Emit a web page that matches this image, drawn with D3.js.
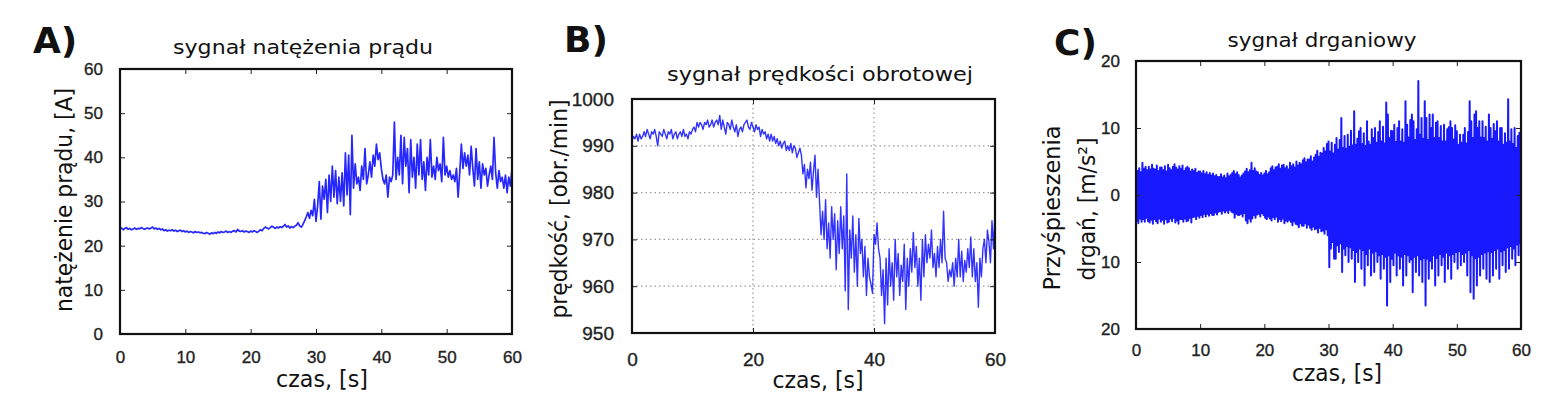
<!DOCTYPE html>
<html><head><meta charset="utf-8">
<script src="https://cdn.jsdelivr.net/npm/d3@7/dist/d3.min.js"></script>
<style>
html,body{margin:0;padding:0;background:#fff;}
svg{display:block;}
</style></head>
<body>
<svg id="chart" width="1554" height="404"></svg>
<script>
// ---------- DATA ----------
const timeStep = 0.25;   // s, all panels

// A) current [A], every 0.25 s from 0 to 60 s
const currentA = [
 23.8,24.0,23.6,23.9, 24.1,23.7,23.9,23.6, 23.8,24.0,23.7,23.9, 23.8,24.1,23.9,23.7,
 23.9,24.0,23.8,24.0, 24.2,23.8,24.0,23.7, 23.9,23.6,23.8,23.4, 23.6,23.3,23.5,23.4,
 23.6,23.3,23.5,23.2, 23.4,23.5,23.2,23.4, 23.1,23.3,23.0,23.2, 23.1,22.9,23.2,23.0,
 23.1,22.9,23.0,22.8, 22.7,23.0,22.8,22.6, 22.9,22.7,23.0,22.8, 23.1,22.9,23.2,23.0,
 23.1,23.3,23.0,23.2, 23.0,23.3,23.4,23.1, 23.7,23.3,23.2,23.4, 23.1,23.3,23.2,23.0,
 23.3,23.1,23.4,23.2, 23.0,23.3,23.6,23.4, 23.9,24.2,24.0,23.8, 24.1,24.4,24.2,23.9,
 24.2,24.0,24.3,24.1, 24.4,24.8,24.2,24.5, 24.0,24.3,24.1,24.4, 24.6,25.2,24.5,24.2,
 24.8,25.6,26.5,27.5, 26.2,28.0,26.8,30.5, 25.5,29.0,34.5,26.0, 33.5,30.5,35.0,27.5,
 36.0,30.0,38.0,31.0, 37.0,29.5,35.5,30.0, 36.5,29.0,41.0,31.5, 40.5,27.0,45.0,33.0,
 38.5,34.0,35.5,32.5, 38.0,35.0,42.0,34.0, 36.0,39.0,35.5,40.5, 38.0,43.0,39.5,41.0,
 37.5,35.0,34.0,36.0, 31.0,35.5,34.5,36.0, 48.0,35.0,40.0,36.0, 45.0,34.0,44.5,38.0,
 42.0,32.0,44.0,35.5, 40.0,33.0,43.0,36.0, 44.0,35.0,39.0,32.5, 40.0,36.0,44.0,35.5,
 38.0,35.0,40.0,37.0, 38.5,34.5,44.5,36.0, 38.0,35.5,37.0,35.0, 36.0,34.5,37.5,31.0,
 36.5,43.0,37.5,41.0, 38.0,40.5,36.0,42.5, 37.5,33.5,42.0,35.0, 39.0,33.0,38.5,36.0,
 37.5,33.5,36.0,38.0, 35.0,44.5,36.5,33.0, 37.0,34.5,35.5,33.0, 36.0,32.0,35.5,33.5,
 37.5
];

// B) rotational speed [obr./min], every 0.25 s
const speedB = [
 991.0,992.0,991.5,992.5, 991.0,992.5,991.5,992.0, 993.0,992.0,993.5,992.5, 991.5,993.0,992.5,993.5,
 992.0,990.0,993.0,992.5, 992.0,993.5,992.5,991.5, 993.0,992.5,993.5,991.5, 992.5,993.0,991.5,992.5,
 993.0,992.0,993.5,992.0, 992.5,991.5,993.0,992.5, 993.5,994.0,993.0,995.0, 994.0,995.0,994.5,993.5,
 995.0,994.5,995.5,994.0, 994.5,995.5,994.0,995.0, 995.5,994.5,996.5,993.5, 995.5,994.0,992.5,995.0,
 994.5,993.5,995.5,994.0, 993.0,994.5,992.0,993.5, 994.0,993.0,994.5,995.0, 995.5,994.0,993.5,995.0,
 994.0,993.0,994.5,993.5, 994.0,992.0,993.5,992.5, 993.0,991.5,992.5,991.0, 992.5,991.0,992.0,990.5,
 991.5,990.0,991.0,989.5, 990.5,991.0,989.0,990.0, 989.0,990.5,988.5,990.0, 989.5,987.5,988.5,989.5,
 988.0,984.0,986.0,981.0, 985.0,983.0,986.5,980.5, 984.5,988.0,979.0,985.0, 978.0,971.0,976.0,970.0,
 978.5,968.0,973.5,966.0, 977.0,970.0,975.5,963.5, 974.0,967.0,977.0,968.0, 975.0,959.0,984.0,955.0,
 972.0,966.0,975.0,963.0, 971.0,960.0,974.5,967.0, 970.0,962.0,968.5,958.0, 966.0,962.0,960.5,958.5,
 971.0,969.0,973.5,968.0, 966.0,958.0,963.5,952.0, 966.0,956.0,968.0,960.0, 965.0,957.0,970.0,962.0,
 967.0,958.0,964.5,961.0, 969.0,955.0,966.0,960.0, 968.0,963.0,971.5,964.0, 968.5,960.0,966.0,957.0,
 970.0,962.0,971.0,965.0, 969.0,966.0,972.0,964.0, 967.0,962.0,968.5,964.0, 970.0,965.0,976.0,966.0,
 965.0,961.0,963.5,962.0, 965.0,960.0,966.0,962.0, 970.0,962.0,967.5,961.0, 965.5,963.0,968.0,964.0,
 970.5,962.0,968.0,961.0, 965.0,955.5,966.0,962.0, 968.0,970.0,965.0,972.0, 969.5,965.0,974.0,968.0,
 976.0
];

// C) vibration acceleration [m/s^2]: positive peaks and negative peaks, every 0.25 s
const vibUpper = [
 4.3,3.6,4.0,3.4, 4.8,3.9,4.2,3.7, 4.2,3.8,4.5,3.9, 3.8,4.4,3.6,4.1, 4.1,3.7,4.3,3.5,
 4.5,4.0,3.7,4.2, 4.6,4.1,3.8,4.3, 3.9,4.4,3.6,4.0, 4.2,4.0,3.5,3.8, 3.6,3.9,3.3,3.5,
 3.5,3.2,3.6,3.1, 3.4,3.0,3.3,2.9, 3.2,2.8,3.0,2.7, 2.7,3.1,2.6,2.9, 2.5,3.2,2.8,3.0,
 3.3,3.6,3.1,3.4, 3.0,2.6,2.9,3.2, 3.5,3.9,3.4,3.7, 4.8,3.6,4.0,3.5, 3.4,3.0,3.3,2.9,
 3.2,3.6,3.1,3.4, 4.0,4.3,3.7,4.1, 4.2,4.6,3.9,4.4, 4.5,4.0,4.3,3.8, 4.8,4.3,4.6,4.1,
 5.0,4.4,4.8,4.6, 5.2,5.5,4.9,5.3, 5.3,5.8,5.0,5.6, 6.0,6.6,5.7,6.3, 6.2,7.0,6.5,7.6,
 8.0,6.5,7.8,6.2, 7.5,8.5,6.8,8.2, 11.5,7.0,8.8,6.9, 9.0,7.2,9.6,7.4, 12.5,7.5,8.4,9.5,
 10.0,7.6,9.2,7.3, 11.0,8.0,7.5,9.8, 8.5,10.0,7.8,9.4, 11.0,8.0,10.2,7.7, 13.8,12.0,8.5,9.6,
 9.5,10.5,7.9,10.0, 11.0,8.0,9.8,7.8, 14.0,10.5,8.6,11.2, 12.0,11.0,8.2,9.8, 17.0,9.0,11.5,8.4,
 14.0,11.5,8.2,12.0, 10.0,12.0,8.5,10.8, 11.0,8.5,10.3,8.0, 10.5,8.0,9.8,10.1, 11.0,10.0,8.3,10.4,
 9.5,7.5,9.0,7.8, 9.0,10.0,7.7,9.4, 14.0,11.0,8.5,12.0, 12.5,10.0,11.0,8.6, 11.0,8.5,10.2,8.0,
 12.0,10.0,8.4,10.6, 9.5,11.0,8.0,10.0, 10.0,7.5,9.2,7.8, 14.3,8.0,9.8,7.6, 10.0,7.0,8.8,9.3,
 9.0
];
const vibLower = [
 -3.8,-4.2,-3.5,-4.0, -3.6,-4.0,-3.4,-3.9, -4.1,-3.7,-4.3,-3.6, -3.9,-4.2,-3.5,-4.0, -3.7,-4.3,-3.6,-4.1,
 -4.0,-3.5,-3.9,-3.4, -4.1,-3.8,-4.3,-3.6, -3.6,-4.0,-3.5,-3.9, -3.8,-3.4,-4.1,-3.3, -3.2,-3.6,-3.1,-3.4,
 -3.0,-3.3,-2.8,-3.2, -2.8,-3.1,-2.7,-3.0, -3.0,-2.6,-2.9,-2.5, -2.4,-2.8,-2.3,-2.6, -2.3,-2.7,-2.2,-2.5,
 -2.6,-3.4,-2.8,-3.0, -3.0,-2.8,-3.2,-2.7, -3.8,-4.2,-3.5,-4.0, -3.5,-3.0,-3.4,-2.9, -2.8,-3.2,-2.7,-3.0,
 -3.4,-3.6,-3.2,-3.5, -3.8,-3.3,-3.6,-3.2, -4.0,-3.6,-3.9,-3.5, -4.2,-3.8,-4.0,-3.7, -4.0,-4.5,-3.9,-4.3,
 -4.4,-4.8,-4.2,-4.6, -4.6,-4.2,-4.9,-4.4, -4.9,-5.2,-4.7,-5.1, -5.0,-5.6,-4.9,-5.4, -5.3,-5.8,-5.1,-6.0,
 -10.8,-8.0,-7.0,-9.5, -9.5,-7.5,-8.5,-7.2, -11.5,-8.0,-9.0,-7.6, -10.0,-7.8,-9.5,-8.2, -13.0,-8.5,-10.0,-8.0,
 -11.0,-8.2,-13.5,-8.8, -10.5,-8.0,-12.0,-8.6, -11.5,-8.4,-10.0,-9.0, -12.5,-8.8,-11.0,-9.2, -16.5,-9.0,-13.0,-9.5,
 -10.5,-8.6,-12.0,-9.0, -11.0,-9.2,-13.5,-8.8, -12.0,-9.0,-10.0,-9.6, -14.5,-9.2,-11.5,-9.0, -12.0,-9.6,-13.0,-9.4,
 -16.5,-9.5,-12.5,-9.8, -11.0,-9.0,-13.5,-9.4, -12.0,-8.8,-10.5,-9.2, -13.0,-8.6,-11.0,-9.0, -12.5,-8.8,-10.0,-8.5,
 -11.0,-8.4,-10.5,-8.8, -10.0,-8.6,-12.0,-8.2, -14.5,-9.0,-15.5,-9.4, -13.5,-9.2,-12.0,-8.8, -11.0,-8.6,-12.5,-8.4,
 -13.0,-8.5,-12.0,-8.2, -11.0,-8.0,-12.5,-8.4, -10.5,-8.2,-11.5,-7.8, -11.0,-7.6,-9.5,-8.0, -10.5,-7.4,-9.0,-7.2,
 -8.5
];

// ticks and labels
const ticksA_x = [0,10,20,30,40,50,60];
const ticksA_y = [0,10,20,30,40,50,60];
const ticksB_x = [0,20,40,60];
const ticksB_y = [950,960,970,980,990,1000];
const ticksC_x = [0,10,20,30,40,50,60];
const ticksC_y = [-20,-10,0,10,20];
const tickLabelsC_y = ["20","10","0","10","20"];

const panelLetters = ["A)","B)","C)"];
const titles = ["sygnał natężenia prądu","sygnał prędkości obrotowej","sygnał drganiowy"];
const xLabel = "czas, [s]";
const yLabelA = "natężenie prądu, [A]";
const yLabelB = "prędkość, [obr./min]";
const yLabelC1 = "Przyśpieszenia";
const yLabelC2 = "drgań, [m/s²]";

// ---------- DRAW ----------
const svg = d3.select("#chart");
svg.append("rect").attr("width",1554).attr("height",404).attr("fill","#fff");
const LBL = "'DejaVu Sans', sans-serif";
const TICKF = "'Liberation Sans', Arial, sans-serif";
const BLUE = "#0000ff";

function panel(cfg){
  const g = svg.append("g");
  const x = d3.scaleLinear().domain([0,60]).range([cfg.x0,cfg.x1]);
  const y = d3.scaleLinear().domain(cfg.ydom).range([cfg.y1,cfg.y0]);
  const id = "clip"+cfg.key;
  svg.append("clipPath").attr("id",id).append("rect")
    .attr("x",cfg.x0).attr("y",cfg.y0).attr("width",cfg.x1-cfg.x0).attr("height",cfg.y1-cfg.y0);

  if (cfg.grid){
    g.append("g").selectAll("line").data(cfg.yt.filter(v=>v>cfg.ydom[0]&&v<cfg.ydom[1])).join("line")
      .attr("x1",cfg.x0).attr("x2",cfg.x1).attr("y1",d=>y(d)).attr("y2",d=>y(d))
      .attr("stroke","#9a9a9a").attr("stroke-width",1.2).attr("stroke-dasharray","1.5,3");
    g.append("g").selectAll("line").data(cfg.xt.filter(v=>v>0&&v<60)).join("line")
      .attr("y1",cfg.y0).attr("y2",cfg.y1).attr("x1",d=>x(d)).attr("x2",d=>x(d))
      .attr("stroke","#9a9a9a").attr("stroke-width",1.2).attr("stroke-dasharray","1.5,3");
  }

  const line = d3.line().x(d=>x(d.t)).y(d=>y(d.v));
  g.append("path").datum(cfg.points).attr("clip-path",`url(#${id})`)
    .attr("d",line).attr("fill","none").attr("stroke",BLUE)
    .attr("stroke-width",cfg.sw).attr("stroke-opacity",cfg.op).attr("stroke-linejoin","round");

  const styleAxis = (a, fs) => {
    a.select(".domain").remove();
    a.selectAll(".tick line").attr("stroke","#222").attr("stroke-width",1);
    a.selectAll(".tick text").attr("font-family",TICKF).attr("font-size",fs).attr("fill","#222")
      .attr("stroke","#222").attr("stroke-width",0.35);
  };
  const ax = g.append("g").attr("transform",`translate(0,${cfg.y1})`)
    .call(d3.axisBottom(x).tickValues(cfg.xt).tickSize(-5).tickPadding(cfg.xpad).tickFormat(d3.format("d")));
  styleAxis(ax, cfg.fs);
  const ay = g.append("g").attr("transform",`translate(${cfg.x0},0)`)
    .call(d3.axisLeft(y).tickValues(cfg.yt).tickSize(-5).tickPadding(cfg.ypad)
      .tickFormat((d,i)=> cfg.ytl ? cfg.ytl[i] : d3.format("d")(d)));
  styleAxis(ay, cfg.fs);
  const at = g.append("g").attr("transform",`translate(0,${cfg.y0})`)
    .call(d3.axisTop(x).tickValues(cfg.xt).tickSize(-5).tickFormat(""));
  styleAxis(at, cfg.fs);
  const ar = g.append("g").attr("transform",`translate(${cfg.x1},0)`)
    .call(d3.axisRight(y).tickValues(cfg.yt).tickSize(-5).tickFormat(""));
  styleAxis(ar, cfg.fs);

  g.append("rect").attr("x",cfg.x0).attr("y",cfg.y0).attr("width",cfg.x1-cfg.x0).attr("height",cfg.y1-cfg.y0)
    .attr("fill","none").attr("stroke","#111").attr("stroke-width",2.2);

  g.append("text").attr("x",cfg.letter[0]).attr("y",cfg.letter[1]).text(cfg.letterText)
    .attr("font-family",LBL).attr("font-weight","bold").attr("font-size",36).attr("fill","#111");
  g.append("text").attr("x",cfg.title[0]).attr("y",cfg.title[1]).attr("text-anchor","middle")
    .attr("font-family",LBL).attr("font-size",19).attr("fill","#111")
    .attr("textLength",cfg.title[2]).attr("lengthAdjust","spacingAndGlyphs").text(cfg.titleText);
  g.append("text").attr("x",cfg.xl[0]).attr("y",cfg.xl[1]).attr("text-anchor","middle")
    .attr("font-family",LBL).attr("font-size",23).attr("fill","#111")
    .attr("textLength",cfg.xl[2]).attr("lengthAdjust","spacingAndGlyphs").text(xLabel);
  cfg.yls.forEach(yl=>{
    g.append("text").attr("transform",`translate(${yl.x},${yl.y}) rotate(-90)`)
      .attr("text-anchor","middle").attr("dominant-baseline","central")
      .attr("font-family",LBL).attr("font-size",23).attr("fill","#111")
      .attr("textLength",yl.len).attr("lengthAdjust","spacingAndGlyphs").text(yl.text);
  });
}

panel({key:"A", x0:120,x1:512,y0:69,y1:334, ydom:[0,60], xt:ticksA_x, yt:ticksA_y,
  points: currentA.map((v,i)=>({t:i*timeStep,v})), sw:1.7, op:0.85, fs:17, xpad:17, ypad:17,
  letter:[33,53], letterText:panelLetters[0], title:[303,54,260], titleText:titles[0],
  xl:[322,387,92], yls:[{x:64,y:200,len:224,text:yLabelA}]});

panel({key:"B", x0:632,x1:995,y0:99,y1:333, ydom:[950,1000], xt:ticksB_x, yt:ticksB_y, grid:true,
  points: speedB.map((v,i)=>({t:i*timeStep,v})), sw:1.4, op:0.8, fs:19, xpad:20, ypad:18,
  letter:[564,52], letterText:panelLetters[1], title:[820,81,306], titleText:titles[1],
  xl:[818,388,91], yls:[{x:559,y:209,len:219,text:yLabelB}]});

// zig-zag between positive and negative peaks
const vibPoints = [];
vibUpper.forEach((u,i)=>{
  vibPoints.push({t:i*timeStep, v:u});
  vibPoints.push({t:Math.min(60, i*timeStep + timeStep/2), v:vibLower[i]});
});
panel({key:"C", x0:1136,x1:1521,y0:61,y1:329, ydom:[-20,20], xt:ticksC_x, yt:ticksC_y, ytl:tickLabelsC_y,
  points: vibPoints, sw:2.0, op:0.9, fs:17, xpad:15, ypad:16,
  letter:[1054,55], letterText:panelLetters[2], title:[1322,47,189], titleText:titles[2],
  xl:[1337,381,90], yls:[{x:1052,y:208,len:165,text:yLabelC1},{x:1087,y:209,len:143,text:yLabelC2}]});
</script>
</body></html>
